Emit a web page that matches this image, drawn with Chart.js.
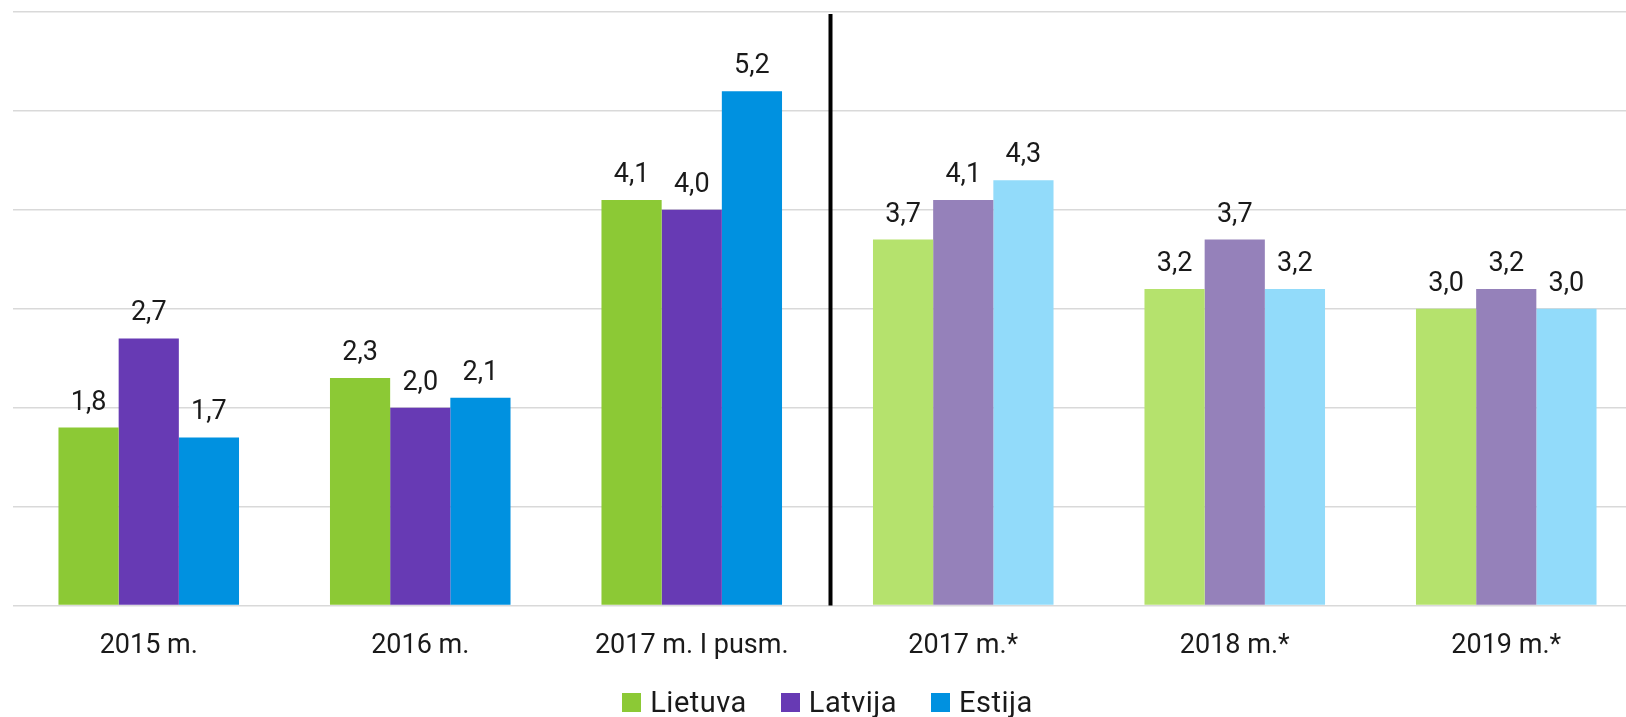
<!DOCTYPE html>
<html>
<head>
<meta charset="utf-8">
<script src="https://cdn.jsdelivr.net/npm/chart.js@4"></script>
<style>
  html, body { margin: 0; padding: 0; background: #fff; overflow: hidden; }
  #wrap { position: relative; width: 1650px; height: 717px; }
  #legend-container {
    position: absolute; top: 685px; display: flex; justify-content: center;
    font-family: Roboto, sans-serif; font-size: 29px; letter-spacing: 0.5px; color: #1a1a1a;
  }
  #legend-container span.item { display: flex; align-items: center; margin: 0 17px; }
  #legend-container span.box { width: 19px; height: 19px; margin-right: 9px; display: inline-block; }
</style>
</head>
<body>
<div id="wrap">
  <canvas id="chart1"></canvas>
  <div id="legend-container"></div>
</div>
<script>
const categories = ['2015 m.', '2016 m.', '2017 m. I pusm.', '2017 m.*', '2018 m.*', '2019 m.*'];
const lietuva = [1.8, 2.3, 4.1, 3.7, 3.2, 3.0];
const latvija = [2.7, 2.0, 4.0, 4.1, 3.7, 3.2];
const estija = [1.7, 2.1, 5.2, 4.3, 3.2, 3.0];
const yTicks = [0, 1, 2, 3, 4, 5, 6];

// first three categories are actual data, the rest forecasts (lighter colours)
const actualCount = 3;
const colors = {
    Lietuva: ['#8cc935', '#b5e26d'],
    Latvija: ['#673ab4', '#9581ba'],
    Estija: ['#0091e0', '#92dbfa']
};

function barColor(name) {
    return function (ctx) {
        if (ctx.dataIndex === undefined || ctx.dataIndex < actualCount) return colors[name][0];
        return colors[name][1];
    };
}

const data1 = {
    labels: categories,
    datasets: [
        { label: 'Lietuva', data: lietuva, backgroundColor: barColor('Lietuva') },
        { label: 'Latvija', data: latvija, backgroundColor: barColor('Latvija') },
        { label: 'Estija', data: estija, backgroundColor: barColor('Estija') }
    ]
};

// value labels above bars, with decimal comma
const valueLabels = {
    id: 'valueLabels',
    afterDatasetsDraw(chart) {
        const ctx = chart.ctx;
        ctx.save();
        ctx.font = '27px Roboto, sans-serif';
        ctx.fillStyle = '#1a1a1a';
        ctx.textAlign = 'center';
        ctx.textBaseline = 'alphabetic';
        chart.data.datasets.forEach((ds, i) => {
            chart.getDatasetMeta(i).data.forEach((bar, j) => {
                ctx.fillText(ds.data[j].toFixed(1).replace('.', ','), bar.x, bar.y - 18);
            });
        });
        ctx.restore();
    }
};

// black divider between actual and forecast
const divider = {
    id: 'divider',
    beforeDatasetsDraw(chart) {
        const x = chart.scales.x;
        const y = chart.scales.y;
        const px = (x.getPixelForValue(actualCount - 1) + x.getPixelForValue(actualCount)) / 2 + 3;
        const ctx = chart.ctx;
        ctx.save();
        ctx.strokeStyle = '#000';
        ctx.lineWidth = 4;
        ctx.beginPath();
        ctx.moveTo(px, y.getPixelForValue(yTicks[yTicks.length - 1]) + 2);
        ctx.lineTo(px, y.getPixelForValue(0));
        ctx.stroke();
        ctx.restore();
    }
};

const htmlLegend = {
    id: 'htmlLegend',
    afterUpdate(chart) {
        const box = document.getElementById('legend-container');
        box.innerHTML = '';
        box.style.left = chart.chartArea.left + 'px';
        box.style.width = (chart.chartArea.right - chart.chartArea.left) + 'px';
        chart.data.datasets.forEach(ds => {
            const item = document.createElement('span');
            item.className = 'item';
            const sq = document.createElement('span');
            sq.className = 'box';
            sq.style.background = colors[ds.label][0];
            item.appendChild(sq);
            item.appendChild(document.createTextNode(ds.label));
            box.appendChild(item);
        });
    }
};

const config1 = {
    type: 'bar',
    data: data1,
    options: {
        responsive: true,
        maintainAspectRatio: false,
        animation: false,
        layout: { padding: { left: 13, right: 8, top: 12, bottom: 39 } },
        datasets: {
            bar: { barPercentage: 1, categoryPercentage: 0.665 }
        },
        scales: {
            x: {
                grid: { display: false },
                border: { display: false },
                ticks: { color: '#1a1a1a', font: { family: 'Roboto', size: 27 }, padding: 16, maxRotation: 0 }
            },
            y: {
                min: yTicks[0],
                max: yTicks[yTicks.length - 1],
                afterBuildTicks(scale) { scale.ticks = yTicks.map(v => ({ value: v })); },
                grid: { color: '#d9d9d9', lineWidth: 1.5, drawTicks: false },
                border: { display: false },
                ticks: { display: false }
            }
        },
        plugins: {
            legend: { display: false },
            tooltip: { enabled: false }
        }
    },
    plugins: [valueLabels, divider, htmlLegend]
};

const chart11 = document.getElementById('chart1').getContext('2d');
const chart1 = new Chart(chart11, config1);
</script>
</body>
</html>
